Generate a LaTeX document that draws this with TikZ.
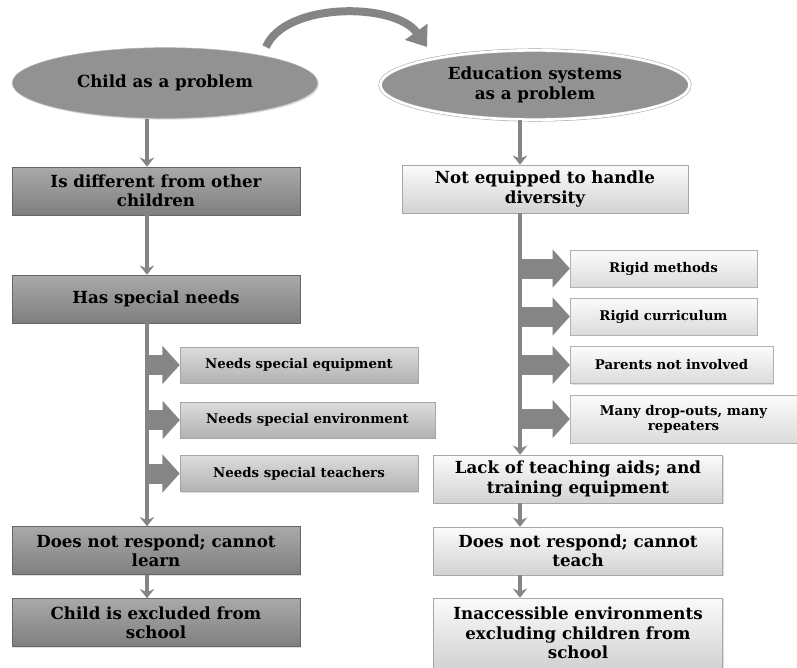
\documentclass[tikz,border=0pt]{standalone}
\usepackage{fontspec}
\setmainfont{DejaVu Serif}
\usetikzlibrary{arrows.meta,shadows,shapes.geometric}

\definecolor{darkTop}{HTML}{A9A9A9}
\definecolor{darkBot}{HTML}{7F7F7F}
\definecolor{midTop}{HTML}{DCDCDC}
\definecolor{midBot}{HTML}{B2B2B2}
\definecolor{lightTop}{HTML}{FBFBFB}
\definecolor{lightBot}{HTML}{D2D2D2}
\definecolor{ovalFill}{HTML}{929292}
\definecolor{linkGray}{HTML}{858585}

\tikzset{
  bigtext/.style={font=\fontsize{12.5}{14.5}\selectfont\bfseries, align=center},
  smalltext/.style={font=\fontsize{10}{11.5}\selectfont\bfseries, align=center},
  shade/.style={drop shadow={opacity=0.25, shadow xshift=1pt, shadow yshift=-1pt}},
  oval/.style={ellipse, bigtext, shade, inner sep=0pt, fill=ovalFill},
  darkbox/.style={rectangle, draw=gray!80!black, top color=darkTop, bottom color=darkBot,
    minimum width=216pt, minimum height=36pt, bigtext, shade},
  lightbox/.style={rectangle, draw=gray!70, top color=lightTop, bottom color=lightBot,
    minimum width=217pt, minimum height=36pt, bigtext, shade},
  leafdark/.style={rectangle, draw=gray!70, top color=midTop, bottom color=midBot,
    minimum height=27pt, smalltext, shade},
  leaflight/.style={rectangle, draw=gray!60, top color=lightTop, bottom color=lightBot!80,
    minimum height=27.75pt, smalltext, shade},
  flow/.style={draw=linkGray, line width=3pt, -{Stealth[length=7pt,width=11pt,inset=2.5pt]}},
  branch/.style={draw=linkGray, line width=15pt, -{Triangle[length=13pt,width=28pt]}},
  swing/.style={draw=linkGray, line width=6pt, -{Triangle[length=14pt,width=20pt]}}
}

\begin{document}
\begin{tikzpicture}[x=0.75pt,y=-0.75pt]
  \useasboundingbox (0,0) rectangle (797,668);

  % left column
  \node[oval, draw=gray!60, minimum width=229pt, minimum height=53pt]
    (child) at (165,83) {Child as a problem};
  \node[darkbox] (diff) at (156,191) {Is different from other\\children};
  \node[darkbox] (needs) at (156,299) {Has special needs};
  \node[leafdark, minimum width=178.5pt] (equip) at (299,365) {Needs special equipment};
  \node[leafdark, minimum width=191pt] (envir) at (307.5,420) {Needs special environment};
  \node[leafdark, minimum width=178.5pt] (teach) at (299,473.5) {Needs special teachers};
  \node[darkbox] (learn) at (156,550.5) {Does not respond; cannot\\learn};
  \node[darkbox] (excl) at (156,622.5) {Child is excluded from\\school};

  % right column
  \node[oval, draw=gray!70, double=white, double distance=2pt,
    minimum width=232pt, minimum height=52pt] (edu) at (535,85) {Education systems\\as a problem};
  \node[lightbox, minimum width=214.5pt] (diverse) at (545,189) {Not equipped to handle\\diversity};
  \node[leaflight, minimum width=140pt] (methods) at (663.5,268.5) {Rigid methods};
  \node[leaflight, minimum width=140pt] (curric) at (663.5,316.5) {Rigid curriculum};
  \node[leaflight, minimum width=152pt] (parents) at (671.5,365) {Parents not involved};
  \node[leaflight, minimum width=170pt, minimum height=36pt] (drop) at (683.5,419)
    {Many drop-outs, many\\repeaters};
  \node[lightbox] (aids) at (578,479) {Lack of teaching aids; and\\training equipment};
  \node[lightbox] (noteach) at (578,551) {Does not respond; cannot\\teach};
  \node[lightbox, minimum height=52.5pt] (access) at (578,633)
    {Inaccessible environments\\excluding children from\\school};

  % connectors
  \coordinate (lx) at (147,0);
  \coordinate (rx) at (520,0);
  \coordinate (swA) at (266,47);
  \coordinate (swB) at (427,47);
  \draw[swing] (swA) .. controls (285,2) and (395,2) .. (swB);

  \draw[flow] (child.south -| lx) -- (diff.north -| lx);
  \draw[flow] (diff.south -| lx) -- (needs.north -| lx);
  \draw[flow] (needs.south -| lx) -- (learn.north -| lx);
  \draw[flow] (learn.south -| lx) -- (excl.north -| lx);
  \foreach \leaf in {equip,envir,teach}
    \draw[branch] (\leaf.west -| lx) -- (\leaf.west);

  \draw[flow] (edu.south -| rx) -- (diverse.north -| rx);
  \draw[flow] (diverse.south -| rx) -- (aids.north -| rx);
  \draw[flow] (aids.south -| rx) -- (noteach.north -| rx);
  \draw[flow] (noteach.south -| rx) -- (access.north -| rx);
  \foreach \leaf in {methods,curric,parents,drop}
    \draw[branch] (\leaf.west -| rx) -- (\leaf.west);
\end{tikzpicture}
\end{document}
